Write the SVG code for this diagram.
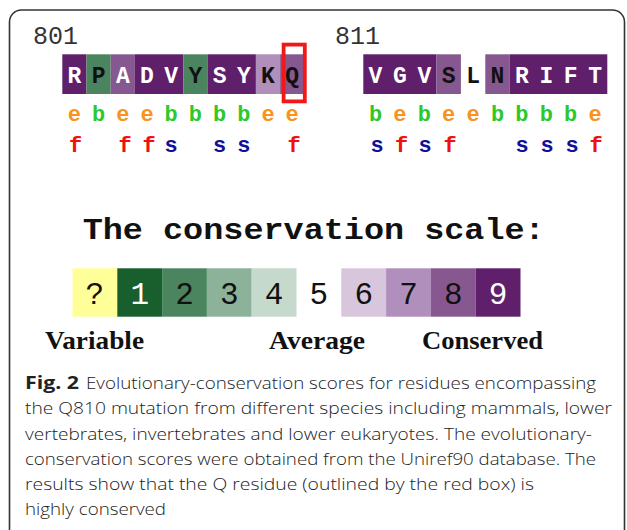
<svg xmlns="http://www.w3.org/2000/svg" width="627" height="530" viewBox="0 0 627 530">
<style>
.frame{fill:none;stroke:#333;stroke-width:1.6}
.res{font-family:"Liberation Mono",monospace;font-weight:bold;font-size:23px;text-anchor:middle}
.pos{font-family:"Liberation Mono",monospace;font-size:25px;fill:#333}
.sub{font-family:"Liberation Mono",monospace;font-weight:bold;font-size:22px;text-anchor:middle}
.e{fill:#f7931e}.b{fill:#2cc82c}.f{fill:#f01010}.s{fill:#10109a}
.w{fill:#fff}.k{fill:#111}
.c9{fill:#5f1f6b}.c8{fill:#87588f}.c7{fill:#b08fbc}.c6{fill:#d8c6dc}
.c4{fill:#c5dacd}.c3{fill:#8db29a}.c2{fill:#4a855f}.c1{fill:#185f2d}.cq{fill:#ffff99}
.dig{font-family:"Liberation Mono",monospace;font-size:31px;text-anchor:middle}
.title{font-family:"Liberation Mono",monospace;font-weight:bold;font-size:30px;fill:#111}
.lab{font-family:"Liberation Serif",serif;font-weight:bold;font-size:26px;fill:#111}
.cap{font-family:"Open Sans",sans-serif;font-size:17px;font-weight:300;fill:#222}
</style>
<path class="frame" d="M9.5,530 V22 A12,12 0 0 1 21.5,10 H612.5 A12,12 0 0 1 624.5,22 V530"/>

<g id="seq801">
<text class="pos" x="33" y="44">801</text>
<rect class="c9" x="62.3" y="54.3" width="24.2" height="39.7"/>
<rect class="c2" x="86.5" y="54.3" width="24.2" height="39.7"/>
<rect class="c8" x="110.7" y="54.3" width="24.2" height="39.7"/>
<rect class="c9" x="134.9" y="54.3" width="48.4" height="39.7"/>
<rect class="c2" x="183.3" y="54.3" width="24.2" height="39.7"/>
<rect class="c9" x="207.5" y="54.3" width="48.4" height="39.7"/>
<rect class="c7" x="255.9" y="54.3" width="24.2" height="39.7"/>
<rect class="c8" x="280.1" y="54.3" width="24.2" height="39.7"/>
<g class="res">
<text class="w" x="74.4" y="83">R</text>
<text class="k" x="98.6" y="83">P</text>
<text class="w" x="122.8" y="83">A</text>
<text class="w" x="147" y="83">D</text>
<text class="w" x="171.2" y="83">V</text>
<text class="k" x="195.4" y="83">Y</text>
<text class="w" x="219.6" y="83">S</text>
<text class="w" x="243.8" y="83">Y</text>
<text class="k" x="268" y="83">K</text>
<text class="k" x="292.2" y="83">Q</text>
</g>
<g class="sub">
<text class="e" x="74.4" y="120.5">e</text>
<text class="b" x="98.6" y="120.5">b</text>
<text class="e" x="122.8" y="120.5">e</text>
<text class="e" x="147" y="120.5">e</text>
<text class="b" x="171.2" y="120.5">b</text>
<text class="b" x="195.4" y="120.5">b</text>
<text class="b" x="219.6" y="120.5">b</text>
<text class="b" x="243.8" y="120.5">b</text>
<text class="e" x="268" y="120.5">e</text>
<text class="e" x="292.2" y="120.5">e</text>
<text class="f" x="75.5" y="151.5">f</text>
<text class="f" x="125" y="151.5">f</text>
<text class="f" x="149" y="151.5">f</text>
<text class="s" x="171.2" y="151.5">s</text>
<text class="s" x="219.6" y="151.5">s</text>
<text class="s" x="243.8" y="151.5">s</text>
<text class="f" x="294" y="151.5">f</text>
</g>
<rect x="283.6" y="44.6" width="21.2" height="56.8" fill="none" stroke="#f01818" stroke-width="3.8"/>
</g>

<g id="seq811">
<text class="pos" x="335" y="44">811</text>
<rect class="c9" x="363.3" y="54.3" width="73.2" height="39.7"/>
<rect class="c8" x="436.5" y="54.3" width="24.4" height="39.7"/>
<rect class="c8" x="485.3" y="54.3" width="24.4" height="39.7"/>
<rect class="c9" x="509.7" y="54.3" width="97.6" height="39.7"/>
<g class="res">
<text class="w" x="375.5" y="83">V</text>
<text class="w" x="399.9" y="83">G</text>
<text class="w" x="424.3" y="83">V</text>
<text class="k" x="448.7" y="83">S</text>
<text class="k" x="473.1" y="83">L</text>
<text class="k" x="497.5" y="83">N</text>
<text class="w" x="521.9" y="83">R</text>
<text class="w" x="546.3" y="83">I</text>
<text class="w" x="570.7" y="83">F</text>
<text class="w" x="595.1" y="83">T</text>
</g>
<g class="sub">
<text class="b" x="375.5" y="120.5">b</text>
<text class="e" x="399.9" y="120.5">e</text>
<text class="b" x="424.3" y="120.5">b</text>
<text class="e" x="448.7" y="120.5">e</text>
<text class="e" x="473.1" y="120.5">e</text>
<text class="b" x="497.5" y="120.5">b</text>
<text class="b" x="521.9" y="120.5">b</text>
<text class="b" x="546.3" y="120.5">b</text>
<text class="b" x="570.7" y="120.5">b</text>
<text class="e" x="595.1" y="120.5">e</text>
<text class="s" x="377" y="151.5">s</text>
<text class="f" x="401.5" y="151.5">f</text>
<text class="s" x="425" y="151.5">s</text>
<text class="f" x="450" y="151.5">f</text>
<text class="s" x="522" y="151.5">s</text>
<text class="s" x="547" y="151.5">s</text>
<text class="s" x="572" y="151.5">s</text>
<text class="f" x="596" y="151.5">f</text>
</g>
</g>

<g id="scale">
<text class="title" x="82.7" y="238.5" textLength="462" lengthAdjust="spacingAndGlyphs">The conservation scale:</text>
<rect class="cq" x="72.5" y="268.3" width="44.8" height="48.4"/>
<rect class="c1" x="117.3" y="268.3" width="44.8" height="48.4"/>
<rect class="c2" x="162.1" y="268.3" width="44.8" height="48.4"/>
<rect class="c3" x="206.9" y="268.3" width="44.8" height="48.4"/>
<rect class="c4" x="251.7" y="268.3" width="44.8" height="48.4"/>
<rect class="c6" x="341.3" y="268.3" width="44.8" height="48.4"/>
<rect class="c7" x="386.1" y="268.3" width="44.8" height="48.4"/>
<rect class="c8" x="430.9" y="268.3" width="44.8" height="48.4"/>
<rect class="c9" x="475.7" y="268.3" width="44.8" height="48.4"/>
<g class="dig">
<text class="k" x="94.9" y="303.5">?</text>
<text class="w" x="139.7" y="303.5">1</text>
<text class="k" x="184.5" y="303.5">2</text>
<text class="k" x="229.3" y="303.5">3</text>
<text class="k" x="274.1" y="303.5">4</text>
<text class="k" x="318.9" y="303.5">5</text>
<text class="k" x="363.7" y="303.5">6</text>
<text class="k" x="408.5" y="303.5">7</text>
<text class="k" x="453.3" y="303.5">8</text>
<text class="w" x="498.1" y="303.5">9</text>
</g>
<text class="lab" x="45" y="348.5" textLength="99" lengthAdjust="spacingAndGlyphs">Variable</text>
<text class="lab" x="269" y="348.5" textLength="96" lengthAdjust="spacingAndGlyphs">Average</text>
<text class="lab" x="422" y="348.5" textLength="121" lengthAdjust="spacingAndGlyphs">Conserved</text>
</g>

<g id="caption" class="cap">
<text x="25" y="389" font-weight="bold" textLength="54" lengthAdjust="spacingAndGlyphs">Fig. 2</text>
<text x="86" y="389" textLength="510" lengthAdjust="spacingAndGlyphs">Evolutionary-conservation scores for residues encompassing</text>
<text x="25" y="414" textLength="587" lengthAdjust="spacingAndGlyphs">the Q810 mutation from different species including mammals, lower</text>
<text x="25" y="439.5" textLength="567" lengthAdjust="spacingAndGlyphs">vertebrates, invertebrates and lower eukaryotes. The evolutionary-</text>
<text x="25" y="465" textLength="571" lengthAdjust="spacingAndGlyphs">conservation scores were obtained from the Uniref90 database. The</text>
<text x="25" y="490" textLength="509" lengthAdjust="spacingAndGlyphs">results show that the Q residue (outlined by the red box) is</text>
<text x="25" y="515" textLength="141" lengthAdjust="spacingAndGlyphs">highly conserved</text>
</g>
</svg>
